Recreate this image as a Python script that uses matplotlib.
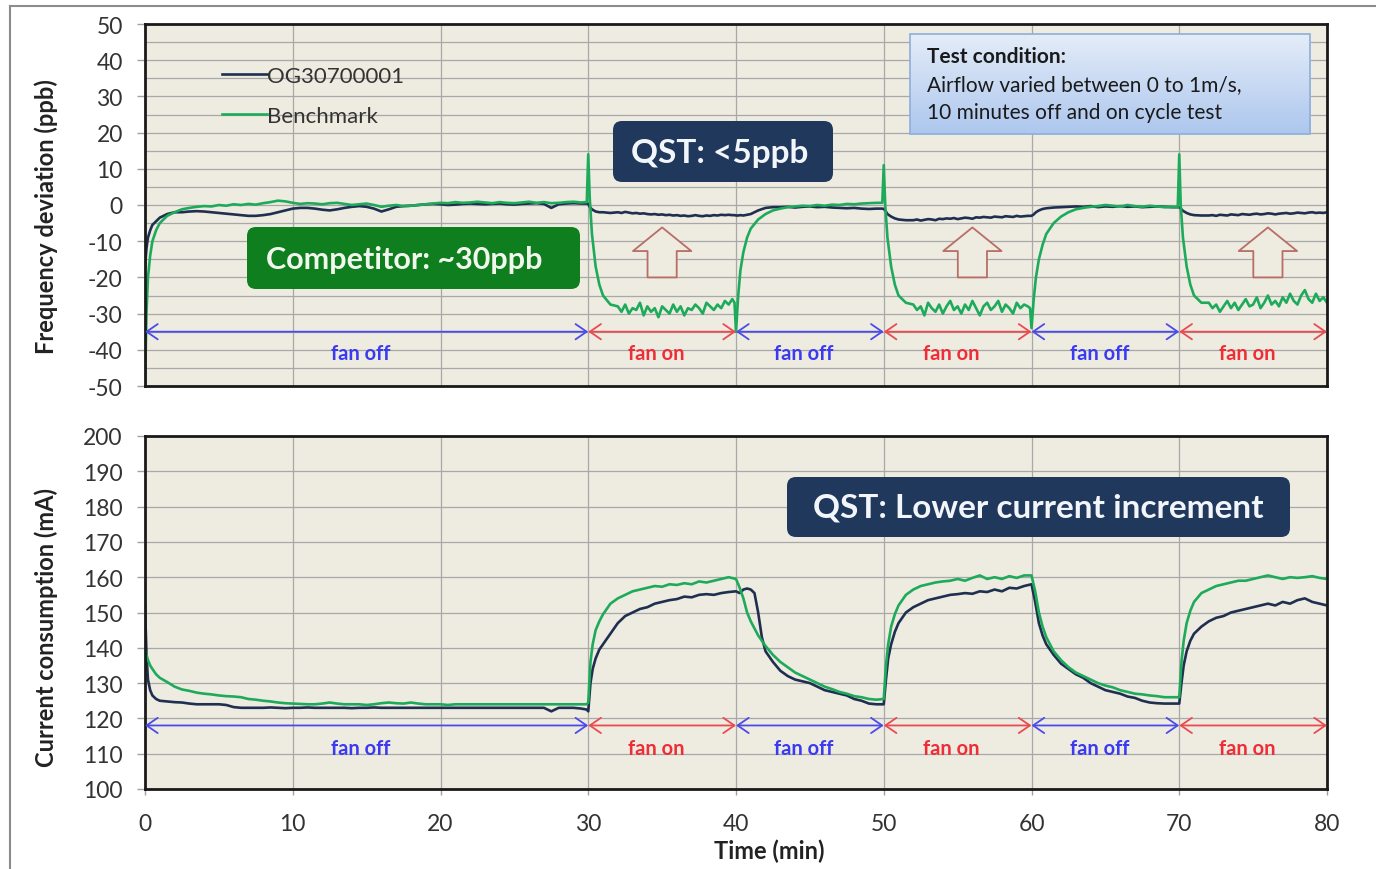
""" Frequency deviation and current consumption during fan on/off cycling. """

import numpy as np
import matplotlib
matplotlib.use('Agg')
from matplotlib import pyplot as plt
from matplotlib.patches import FancyBboxPatch, FancyArrowPatch, Rectangle
from matplotlib.lines import Line2D
from matplotlib.transforms import IdentityTransform
from matplotlib.colors import LinearSegmentedColormap

plt.rcParams['font.family'] = ['Lato', 'DejaVu Sans']
plt.rcParams['axes.unicode_minus'] = False

# ------------------------------------------------------------------
# Data
# ------------------------------------------------------------------
series_names = ['OG30700001', 'Benchmark']

# Frequency deviation (ppb) -- sample times (min)
t_freq = np.concatenate([
    [0, 0.1, 0.2, 0.35, 0.5, 0.75, 1, 1.5, 2, 2.5],
    np.arange(3, 30, 0.5),
    [29.9, 30.0, 30.1, 30.25, 30.5, 30.75, 31, 31.5],
    np.arange(32, 40, 0.25),
    [39.9, 40.0, 40.15, 40.3, 40.5, 40.75, 41, 41.5, 42, 42.5],
    np.arange(43, 50, 0.5),
    [49.9, 50.0, 50.1, 50.25, 50.5, 50.75, 51, 51.5],
    np.arange(52, 60, 0.25),
    [59.9, 60.0, 60.15, 60.3, 60.5, 60.75, 61, 61.5, 62, 62.5],
    np.arange(63, 70, 0.5),
    [69.9, 70.0, 70.1, 70.25, 70.5, 70.75, 71, 71.5],
    np.arange(72, 80.01, 0.25),
])

freq_og = [
    -17, -12, -9, -7, -5.5, -4.5, -3.5, -2.5, -2, -2,
    -1.8, -1.7, -1.8, -2.0, -2.2, -2.4, -2.6, -2.8, -3.0, -3.0,
    -2.8, -2.5, -2.0, -1.5, -1.0, -0.8, -0.8, -1.0, -1.3, -1.5,
    -1.2, -0.8, -0.5, -0.3, -0.5, -1.0, -1.8, -1.2, -0.5, -0.3,
    -0.2, 0.0, 0.2, 0.3, 0.2, 0.0, 0.1, 0.3, 0.4, 0.3,
    0.2, 0.3, 0.4, 0.2, 0.1, 0.3, 0.4, 0.5, 0.3, -0.8,
    0.2, 0.4, 0.5, 0.4,
    0.4, 0.3, -0.5, -1.2, -1.8, -2.0, -2.0, -2.2,
    -2.0, -2.2, -1.9, -2.1, -2.3, -2.2, -2.4, -2.3, -2.5, -2.6,
    -2.5, -2.7, -2.6, -2.8, -2.7, -2.9, -2.8, -3.0, -2.9, -3.1,
    -3.0, -2.8, -3.0, -3.1, -2.9, -3.0, -2.8, -2.9, -2.7, -2.8,
    -2.7, -2.8,
    -2.8, -2.9, -2.9, -2.8, -2.9, -2.7, -2.5, -1.5, -0.8, -0.6,
    -0.6, -0.5, -0.7, -0.5, -0.4, -0.6, -0.5, -0.7, -0.8, -0.9,
    -0.8, -1.0, -1.1, -1.0,
    -1.0, -1.1, -1.5, -2.5, -3.2, -3.7, -4.0, -4.2,
    -4.2, -4.0, -4.3, -4.1, -3.9, -4.0, -4.2, -3.8, -3.9, -3.7,
    -3.8, -3.6, -3.9, -3.7, -3.5, -3.6, -3.8, -3.4, -3.5, -3.3,
    -3.4, -3.5, -3.2, -3.3, -3.4, -3.1, -3.2, -3.3, -3.0, -3.2,
    -3.1, -3.0,
    -3.0, -3.0, -2.6, -2.0, -1.5, -1.1, -0.9, -0.7, -0.6, -0.5,
    -0.4, -0.5, -0.3, -0.6, -0.4, -0.5, -0.3, -0.5, -0.4, -0.6,
    -0.5, -0.4, -0.5, -0.6,
    -0.6, -0.6, -1.0, -1.6, -2.2, -2.6, -2.8, -2.9,
    -2.9, -2.8, -3.0, -2.7, -2.8, -2.9, -2.6, -2.7, -2.8, -2.5,
    -2.6, -2.7, -2.5, -2.4, -2.6, -2.5, -2.3, -2.4, -2.6, -2.4,
    -2.3, -2.2, -2.4, -2.3, -2.1, -2.2, -2.3, -2.1, -2.0, -2.2,
    -2.1, -2.2, -2.0,
]

freq_bm = [
    -50, -30, -20, -14, -10, -7, -5, -3, -2, -1.2,
    -0.8, -0.5, -0.3, -0.4, 0.0, -0.2, 0.2, 0.0, 0.3, 0.1,
    0.5, 0.8, 1.2, 1.0, 0.6, 0.3, 0.5, 0.4, 0.2, 0.5,
    0.6, 0.3, 0.0, 0.2, 0.4, 0.0, -0.5, -0.2, 0.0, -0.3,
    -0.2, 0.0, 0.2, 0.4, 0.6, 0.5, 0.8, 0.6, 0.7, 0.9,
    0.7, 0.5, 0.8, 0.6, 0.5, 0.7, 0.9, 0.6, 0.8, 0.5,
    0.6, 0.8, 0.9, 0.7,
    0.8, 14, 2, -8, -17, -22, -25, -27.5,
    -28.0, -29.5, -27.5, -30.0, -28.5, -29.0, -27.0, -30.5, -28.0, -29.5,
    -28.5, -31.0, -28.0, -29.0, -30.0, -27.5, -29.5, -28.0, -30.5, -28.5,
    -29.0, -27.5, -28.5, -30.0, -27.0, -28.0, -29.0, -27.5, -28.5, -26.5,
    -27.5, -26.0,
    -27.0, -35.0, -25, -18, -13, -9, -6.5, -4, -2.5, -1.5,
    -1.0, -0.6, -0.4, -0.2, -0.3, 0.0, -0.2, 0.1, 0.0, 0.3,
    0.2, 0.4, 0.5, 0.6,
    0.6, 11, 0, -9, -17, -22, -25, -27,
    -27.5, -29.0, -28.0, -30.5, -27.0, -28.5, -29.5, -27.5, -30.0, -28.0,
    -26.5, -29.0, -28.0, -30.0, -27.5, -29.0, -26.5, -28.5, -30.5, -28.0,
    -27.0, -29.0, -28.0, -26.5, -29.5, -27.5, -28.5, -30.0, -27.0, -28.5,
    -27.5, -28.0,
    -28.5, -34, -26, -20, -15, -11, -8, -5, -3.2, -2.0,
    -1.2, -0.8, -0.5, -0.3, 0.0, -0.2, -0.4, 0.0, -0.3, -0.5,
    -0.2, -0.4, -0.6, -0.5,
    -0.6, 14, 0, -9, -17, -22, -25, -27,
    -27.0, -28.5, -27.5, -29.5, -28.0, -26.5, -28.5, -27.0, -29.0, -27.5,
    -26.0, -28.0, -27.5, -25.5, -28.5, -27.0, -25.0, -27.5, -26.5, -28.0,
    -25.5, -27.0, -24.5, -26.5, -27.5, -25.0, -23.5, -26.0, -27.0, -24.5,
    -26.5, -25.5, -27.0,
]

# Current consumption (mA) -- sample times (min)
t_curr = np.concatenate([
    [0, 0.1, 0.2, 0.35, 0.5, 0.75, 1, 1.5, 2, 2.5],
    np.arange(3, 30, 0.5),
    [29.9, 30.0, 30.15, 30.3, 30.5, 30.75, 31, 31.5],
    np.arange(32, 40, 0.5),
    [40.0, 40.25, 40.5, 40.75, 41.0, 41.25, 41.5, 41.75, 42, 42.5],
    np.arange(43, 50, 0.5),
    [50.0, 50.15, 50.3, 50.5, 50.75, 51, 51.5],
    np.arange(52, 60, 0.5),
    [60.0, 60.25, 60.5, 60.75, 61, 61.5, 62, 62.5],
    np.arange(63, 70, 0.5),
    [70.0, 70.15, 70.3, 70.5, 70.75, 71, 71.5],
    np.arange(72, 80.01, 0.5),
])

curr_og = [
    152, 138, 131, 128, 126.5, 125.5, 125, 124.8, 124.6, 124.5,
    124.2, 124.0, 124.0, 124.0, 124.0, 123.8, 123.2, 123.0, 123.0, 123.0,
    123.0, 123.1, 123.0, 122.9, 123.0, 123.0, 123.1, 123.0, 123.0, 123.0,
    123.0, 123.0, 122.9, 123.0, 123.0, 123.1, 123.0, 123.0, 123.0, 123.0,
    123.0, 123.0, 123.0, 123.0, 123.0, 123.0, 123.0, 123.0, 123.0, 123.0,
    123.0, 123.0, 123.0, 123.0, 123.0, 123.0, 123.0, 123.0, 123.0, 122.0,
    123.0, 123.0, 123.0, 122.8,
    122.5, 122.0, 130, 134, 137, 139.5, 141, 144,
    147, 149, 150, 151, 151.5, 152.5, 153, 153.5, 153.8, 154.5,
    154.3, 155, 155.2, 155, 155.5, 155.8,
    156, 155.5, 156.5, 156.8, 156.5, 155.5, 150, 143, 139, 136,
    133.5, 132, 131, 130.5, 130, 129, 128, 127.5, 127, 126.5,
    125.5, 125, 124.2, 124,
    124, 131, 137, 141, 144.5, 147, 150,
    151.5, 152.5, 153.5, 154, 154.5, 155, 155.2, 155.5, 155.3, 156,
    155.8, 156.5, 156, 157, 156.8, 157.5,
    158, 153, 147, 143.5, 141, 138, 135.5, 134,
    132.5, 131.5, 130, 129, 128, 127.5, 127, 126.2, 125.8, 125,
    124.5, 124.3, 124.2, 124.2,
    124.2, 130, 135, 139, 142, 144, 146,
    147.5, 148.5, 149, 150, 150.5, 151, 151.5, 152, 152.5, 152,
    153, 152.5, 153.5, 154, 153, 152.5, 152,
]

curr_bm = [
    141, 138, 136.5, 135, 134, 132.5, 131.5, 130.3, 129, 128.2,
    127.8, 127.3, 127, 126.8, 126.5, 126.3, 126.2, 126, 125.5, 125.3,
    125, 124.8, 124.5, 124.3, 124.2, 124.1, 124, 124, 124.2, 124.5,
    124.2, 124, 124, 124, 123.8, 124, 124.3, 124.5, 124.3, 124.2,
    124.5, 124.2, 124, 124, 124, 123.8, 124, 124, 124, 124,
    124, 124, 124, 124, 124, 124, 124, 124, 124, 124,
    124, 124, 124, 124,
    124, 124.5, 136, 141, 145, 147.5, 149.5, 152.5,
    154, 155, 156, 156.5, 157, 157.5, 157.3, 158, 157.8, 158.3,
    158, 158.8, 158.5, 159, 159.5, 160,
    159.5, 157, 154, 150, 147.5, 145.5, 143.5, 142, 140.5, 138,
    136, 134.5, 133, 132, 131, 130, 129, 128.3, 127.5, 127,
    126.3, 126, 125.5, 125.3,
    125.5, 135, 141, 146, 149.5, 152, 155,
    156.5, 157.5, 158, 158.5, 158.8, 159, 159.5, 159, 159.8, 160.5,
    159.5, 160, 159.5, 160.3, 159.8, 160.5,
    160.5, 156, 150, 146, 143, 139, 136.5, 134.5,
    133, 132, 131, 130, 129.3, 128.8, 128, 127.5, 127, 126.8,
    126.5, 126.3, 126, 126,
    126, 136, 142, 147, 150.5, 153, 155.5,
    156.5, 157.5, 158, 158.5, 159, 159, 159.5, 160, 160.5, 160,
    159.5, 160, 159.8, 160, 160.3, 159.8, 159.5,
]

# Fan phases
phase_edges = [0, 30, 40, 50, 60, 70, 80]
phase_labels = ['fan off', 'fan on', 'fan off', 'fan on', 'fan off', 'fan on']

# ------------------------------------------------------------------
# Styling
# ------------------------------------------------------------------
W, H = 1376, 870
bg = '#EEEBE1'
c_og = '#1E2F4F'
c_bm = '#1DAB5B'
c_off, c_off_txt = '#4B4BEA', '#3A3AF0'
c_on, c_on_txt = '#EA4A50', '#EE2D36'
c_navy_box = '#1F385C'
c_green_box = '#0F7E1E'
grid_c = '#A8A8A8'


def fbox(x0, y0, x1, y1):
    """ pixel box (image coords) -> figure fraction [l, b, w, h] """
    return [x0 / W, 1 - y1 / H, (x1 - x0) / W, (y1 - y0) / H]


def pbox(fig, x0, y0, x1, y1, fc, ec='none', rs=10, lw=1.0):
    p = FancyBboxPatch((x0, H - y1), x1 - x0, y1 - y0,
                       boxstyle=f'round,pad=0,rounding_size={rs}',
                       fc=fc, ec=ec, lw=lw, transform=IdentityTransform(),
                       zorder=5)
    fig.patches.append(p)
    return p


fig = plt.figure(figsize=(W / 100, H / 100), dpi=100)
fig.patch.set_facecolor('white')

ax1 = fig.add_axes(fbox(145, 25, 1327, 387))
ax2 = fig.add_axes(fbox(145, 437, 1327, 790))

for ax in (ax1, ax2):
    ax.set_facecolor(bg)
    ax.set_xlim(0, 80)
    ax.set_xticks(range(0, 81, 10))
    ax.grid(True, which='major', color=grid_c, lw=0.9)
    ax.set_axisbelow(True)
    for sp in ax.spines.values():
        sp.set_linewidth(2.0)
        sp.set_color('#1A1A1A')
    ax.tick_params(axis='y', length=6, width=1, color='#A0A0A0',
                   labelsize=16.5, labelcolor='#333333', pad=10)

# Top panel
ax1.set_ylim(-50, 50)
ax1.set_yticks(range(-50, 51, 10))
ax1.set_yticks(range(-45, 50, 10), minor=True)
ax1.grid(True, which='minor', axis='y', color=grid_c, lw=0.9)
ax1.tick_params(axis='y', which='minor', length=0)
ax1.tick_params(axis='x', labelbottom=False, length=0)

ax1.plot(t_freq, freq_og, color=c_og, lw=1.9, label=series_names[0])
ax1.plot(t_freq, freq_bm, color=c_bm, lw=1.9, label=series_names[1])
ax1.set_ylabel('Frequency deviation (ppb)', fontsize=17,
               fontweight='bold', color='#222222')
ax1.yaxis.set_label_coords(-0.074, 0.47)

leg = ax1.legend(loc='upper left', bbox_to_anchor=(0.048, 0.94),
                 frameon=False, fontsize=16, handlelength=2.05,
                 handletextpad=0.0, labelspacing=0.9)
for txt in leg.get_texts():
    txt.set_color('#333333')

# Bottom panel
ax2.set_ylim(100, 200)
ax2.set_yticks(range(100, 201, 10))
ax2.tick_params(axis='x', length=4, width=1, color='#A0A0A0',
                labelsize=16.5, labelcolor='#333333', pad=13)
ax2.plot(t_curr, curr_og, color=c_og, lw=1.9)
ax2.plot(t_curr, curr_bm, color=c_bm, lw=1.9)
ax2.set_ylabel('Current consumption (mA)', fontsize=17,
               fontweight='bold', color='#222222')
ax2.yaxis.set_label_coords(-0.074, 0.46)
ax2.set_xlabel('Time (min)', fontsize=17, fontweight='bold',
               color='#222222')
ax2.xaxis.set_label_coords(0.528, -0.14)

# Fan on/off arrows and labels
for ax, y_arr, y_lbl in ((ax1, -35, -41), (ax2, 118, 111.5)):
    for i, lbl in enumerate(phase_labels):
        x0, x1 = phase_edges[i], phase_edges[i + 1]
        on = lbl == 'fan on'
        ax.add_patch(FancyArrowPatch(
            (x0, y_arr), (x1, y_arr),
            arrowstyle='<->,head_length=0.8,head_width=0.55',
            mutation_scale=10, color=c_on if on else c_off, lw=1.3,
            shrinkA=0, shrinkB=0, zorder=4))
        ax.text((x0 + x1) / 2 - 0.4, y_lbl, lbl, ha='center', va='center',
                fontsize=14.5, fontweight='bold',
                color=c_on_txt if on else c_off_txt, zorder=4)

# Hollow "improvement" arrows in the top panel
for x in (35, 56, 76):
    ax1.annotate('', xy=(x, -6.2), xytext=(x, -20),
                 arrowprops=dict(
                     arrowstyle='simple,head_length=0.85,head_width=2.1,'
                                'tail_width=1.05',
                     fc=bg, ec='#B86E66', lw=1.3, shrinkA=0, shrinkB=0,
                     mutation_scale=20),
                 zorder=4)

# Call-out boxes
pbox(fig, 247, 228, 580, 290, c_green_box, rs=9)
fig.text(404 / W, 1 - 260 / H, 'Competitor: ~30ppb', ha='center',
         va='center', fontsize=22, fontweight='bold', color='#F2F7EE',
         zorder=6)

pbox(fig, 613, 122, 833, 183, c_navy_box, rs=9)
fig.text(720 / W, 1 - 153 / H, 'QST: <5ppb', ha='center', va='center',
         fontsize=24, fontweight='bold', color='#F2F5FA', zorder=6)

pbox(fig, 787, 478, 1290, 538, c_navy_box, rs=9)
fig.text(1038 / W, 1 - 508 / H, 'QST: Lower current increment',
         ha='center', va='center', fontsize=24, fontweight='bold',
         color='#F2F5FA', zorder=6)

# Test condition box (vertical gradient)
ax_tc = fig.add_axes(fbox(910, 35, 1310, 135))
grad = np.linspace(0, 1, 64).reshape(-1, 1)
cm_tc = LinearSegmentedColormap.from_list('tc', ['#E4ECF8', '#ADC7EE'])
ax_tc.imshow(grad, aspect='auto', cmap=cm_tc, extent=[0, 1, 0, 1],
             origin='upper')
ax_tc.set_axis_off()
ax_tc.add_patch(Rectangle((0, 0), 1, 1, transform=ax_tc.transAxes,
                          fill=False, ec='#8EAEDB', lw=1.2, clip_on=False))
tc_lines = ['Airflow varied between 0 to 1m/s,',
            '10 minutes off and on cycle test']
fig.text(927 / W, 1 - 57 / H, 'Test condition:', ha='left', va='center',
         fontsize=15, fontweight='bold', color='#1A1A1A', zorder=6)
for k, line in enumerate(tc_lines):
    fig.text(927 / W, 1 - (85 + 28 * k) / H, line, ha='left', va='center',
             fontsize=15, color='#1A1A1A', zorder=6)

# Outer frame
fig.add_artist(Line2D([10 / W, 1], [1 - 7 / H, 1 - 7 / H],
                      transform=fig.transFigure, color='#8C8C8C', lw=1.5))
fig.add_artist(Line2D([10 / W, 10 / W], [0, 1 - 7 / H],
                      transform=fig.transFigure, color='#8C8C8C', lw=1.5))

assert len(t_freq) == len(freq_og) == len(freq_bm)
assert len(t_curr) == len(curr_og) == len(curr_bm)

fig.savefig('out.png', dpi=100)
